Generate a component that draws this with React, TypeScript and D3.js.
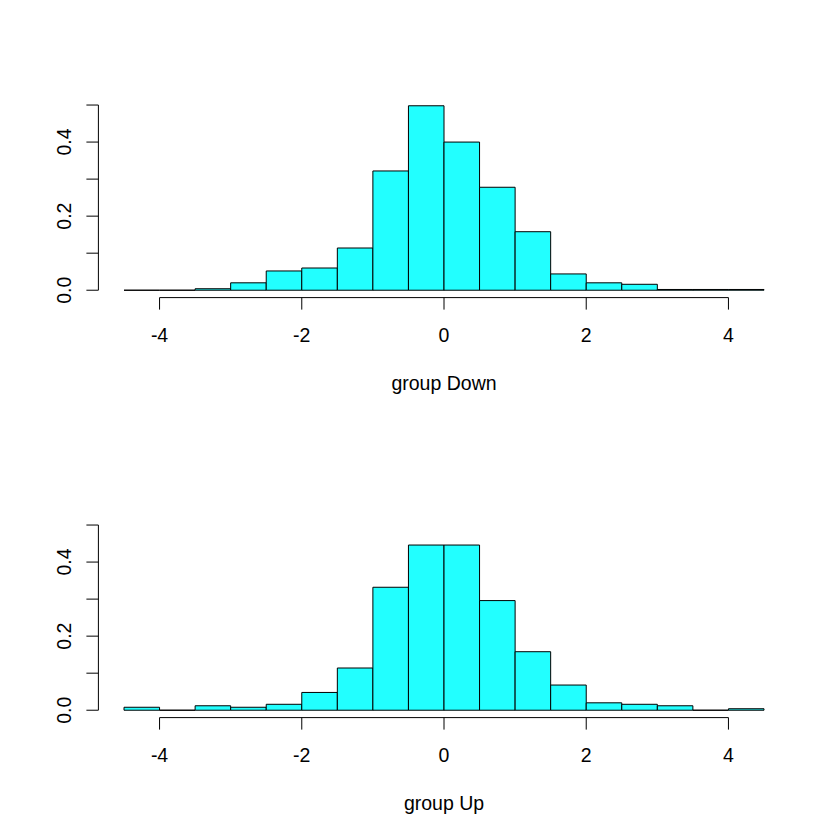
import React from "react";
import * as d3 from "d3";

// Bin edges: -4.5 to 4.5 in steps of 0.5
const binStarts: number[] = [-4.5, -4, -3.5, -3, -2.5, -2, -1.5, -1, -0.5, 0, 0.5, 1, 1.5, 2, 2.5, 3, 3.5, 4];
const binWidth = 0.5;

const densityDown: number[] = [0, 0, 0.004, 0.02, 0.052, 0.06, 0.114, 0.322, 0.498, 0.4, 0.278, 0.158, 0.044, 0.02, 0.016, 0.002, 0.002, 0.002];
const densityUp: number[] = [0.008, 0, 0.012, 0.008, 0.016, 0.048, 0.114, 0.332, 0.446, 0.446, 0.296, 0.158, 0.068, 0.02, 0.016, 0.012, 0, 0.004];

const panelTitles: string[] = ["group Down", "group Up"];
const xTicks: number[] = [-4, -2, 0, 2, 4];
const yTicks: number[] = [0, 0.1, 0.2, 0.3, 0.4, 0.5];
const yLabelTicks: number[] = [0, 0.2, 0.4];

const W = 840;
const PANEL_H = 420;
const FONT = "'Liberation Sans', Arial, Helvetica, sans-serif";
const FS = 19.5;

function Panel({ data, label, offsetY }: { data: number[]; label: string; offsetY: number }) {
  const line = 24;
  const left = 4.1 * line;
  const right = W - 2.1 * line;
  const top = 4.1 * line;
  const bottom = PANEL_H - 5.1 * line;
  const xlo = -4.5, xhi = 4.5;
  const xpad = (xhi - xlo) * 0.04;
  const x = d3.scaleLinear().domain([xlo - xpad, xhi + xpad]).range([left, right]);
  const ymax = 0.498;
  const y = d3.scaleLinear().domain([-0.04 * ymax, ymax * 1.04]).range([bottom, top]);
  const tick = 12;
  return (
    <g transform={`translate(0,${offsetY})`}>
      {data.map((d, i) => {
        const x0 = x(binStarts[i]);
        const x1 = x(binStarts[i] + binWidth);
        const y0 = y(0);
        const y1 = y(d);
        const p = d3.path();
        p.moveTo(x0, y0);
        p.lineTo(x0, y1);
        p.lineTo(x1, y1);
        p.lineTo(x1, y0);
        p.closePath();
        return <path key={i} d={p.toString()} fill="#22ffff" stroke="#000" strokeWidth={1} />;
      })}
      {/* x axis */}
      <line x1={x(xTicks[0])} x2={x(xTicks[xTicks.length - 1])} y1={bottom} y2={bottom} stroke="#000" strokeWidth={1} />
      {xTicks.map((t) => (
        <g key={t}>
          <line x1={x(t)} x2={x(t)} y1={bottom} y2={bottom + tick} stroke="#000" strokeWidth={1} />
          <text x={x(t)} y={bottom + 44} textAnchor="middle" fontFamily={FONT} fontSize={FS}>
            {t < 0 ? `-${Math.abs(t)}` : `${t}`}
          </text>
        </g>
      ))}
      {/* y axis */}
      <line x1={left} x2={left} y1={y(yTicks[0])} y2={y(yTicks[yTicks.length - 1])} stroke="#000" strokeWidth={1} />
      {yTicks.map((t) => (
        <line key={t} x1={left} x2={left - tick} y1={y(t)} y2={y(t)} stroke="#000" strokeWidth={1} />
      ))}
      {yLabelTicks.map((t) => (
        <text
          key={t}
          transform={`translate(${left - 27},${y(t)}) rotate(-90)`}
          textAnchor="middle"
          fontFamily={FONT}
          fontSize={FS}
        >
          {t.toFixed(1)}
        </text>
      ))}
      <text x={(x(xlo - xpad) + x(xhi + xpad)) / 2} y={bottom + 92} textAnchor="middle" fontFamily={FONT} fontSize={FS}>
        {label}
      </text>
    </g>
  );
}

export default function App() {
  return (
    <svg width={W} height={W} style={{ position: "absolute", left: 0, top: 0, background: "#fff" }}>
      <rect width={W} height={W} fill="#fff" />
      <Panel data={densityDown} label={panelTitles[0]} offsetY={0} />
      <Panel data={densityUp} label={panelTitles[1]} offsetY={PANEL_H} />
    </svg>
  );
}
